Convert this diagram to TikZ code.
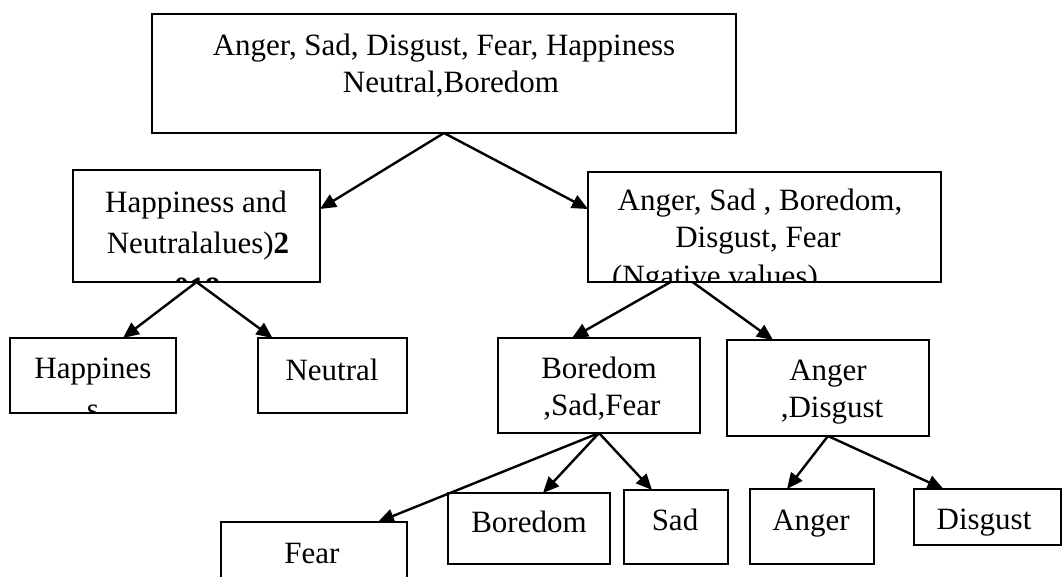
\documentclass[tikz,border=0pt]{standalone}
\usepackage{fontspec}
\setmainfont{Liberation Serif}
\usepackage{tikz}
\usetikzlibrary{arrows.meta}
\tikzset{%
  b/.style = {rectangle,draw,line width=1.8pt,inner sep=0pt,outer sep=0pt},
  txt/.style = {anchor=base,inner sep=0pt,font=\fontsize{31}{37}\selectfont},
  arr/.style = {-{Triangle[length=16pt,width=14pt]},line width=2.4pt}
}

\begin{document}
\begin{tikzpicture}[x=1pt,y=-1pt]
        \useasboundingbox (0,0) rectangle (1063,576);
        % boxes
        \node[b,minimum width=584pt,minimum height=119pt] (all) at (444,73.5) {};
        \node[b,minimum width=247pt,minimum height=112pt] (hn) at (196.5,226) {};
        \node[b,minimum width=353pt,minimum height=110pt] (neg) at (764.5,227) {};
        \node[b,minimum width=166pt,minimum height=75pt] (hap) at (93,375.5) {};
        \node[b,minimum width=149pt,minimum height=75pt] (neu) at (332.5,375.5) {};
        \node[b,minimum width=202pt,minimum height=95pt] (bsf) at (599,385.5) {};
        \node[b,minimum width=202pt,minimum height=96pt] (ad) at (828,388) {};
        \node[b,minimum width=186pt,minimum height=78pt] (fear) at (314,561) {};
        \node[b,minimum width=162pt,minimum height=71pt] (bor) at (529,528.5) {};
        \node[b,minimum width=104pt,minimum height=74pt] (sad) at (676,527) {};
        \node[b,minimum width=124pt,minimum height=75pt] (ang) at (812,526.5) {};
        \node[b,minimum width=147pt,minimum height=56pt] (dis) at (987.5,517) {};

        % texts
        \node[txt] (all-1) at (444,55) {Anger, Sad, Disgust, Fear, Happiness};
        \node[txt] (all-2) at (451,92) {Neutral,Boredom};
        \node[txt] (hn-1) at (196,212) {Happiness and};
        \node[txt] (hn-2) at (198,253) {Neutralalues)\textbf{2}};
        \node[txt] (neg-1) at (760,210) {Anger, Sad , Boredom,};
        \node[txt] (neg-2) at (758,247) {Disgust, Fear};
        \node[txt] (hap-1) at (93,378) {Happines};
        \node[txt] (neu-1) at (332,380) {Neutral};
        \node[txt] (bsf-1) at (599,378) {Boredom};
        \node[txt] (bsf-2) at (602,415) {,Sad,Fear};
        \node[txt] (ad-1) at (828,380) {Anger};
        \node[txt] (ad-2) at (832,417) {,Disgust};
        \node[txt] (fear-1) at (312,563) {Fear};
        \node[txt] (bor-1) at (529,532) {Boredom};
        \node[txt] (sad-1) at (675,530) {Sad};
        \node[txt] (ang-1) at (811,530) {Anger};
        \node[txt] (dis-1) at (984,529) {Disgust};

        % lines that run out of their box
        \begin{scope}
          \clip ([shift={(1pt,-1pt)}]hn.north west) rectangle ([shift={(-1pt,1pt)}]hn.south east);
          \node[txt] (hn-3) at (197,298) {\textbf{018}};
        \end{scope}
        \begin{scope}
          \clip ([shift={(1pt,-1pt)}]neg.north west) rectangle ([shift={(-1pt,1pt)}]neg.south east);
          \node[txt] (neg-3) at (715,286) {(Ngative values)};
        \end{scope}
        \begin{scope}
          \clip ([shift={(1pt,-1pt)}]hap.north west) rectangle ([shift={(-1pt,1pt)}]hap.south east);
          \node[txt] (hap-2) at (93,419) {s};
        \end{scope}

        % arrows
        \draw[arr] (all.south) -- ([yshift=17pt]hn.east);
        \draw[arr] (all.south) -- ([yshift=18pt]neg.west);
        \draw[arr] (hn.south) -- ([xshift=30pt]hap.north);
        \draw[arr] (hn.south) -- ([xshift=-60pt]neu.north);
        \draw[arr] ([xshift=-94pt]neg.south) -- ([xshift=-27pt]bsf.north);
        \draw[arr] ([xshift=-72pt]neg.south) -- ([xshift=-55pt]ad.north);
        \draw[arr] (bsf.south) -- ([xshift=64pt]fear.north);
        \draw[arr] (bsf.south) -- ([xshift=14pt]bor.north);
        \draw[arr] (bsf.south) -- ([xshift=-24pt]sad.north);
        \draw[arr] (ad.south) -- ([xshift=-25pt]ang.north);
        \draw[arr] (ad.south) -- ([xshift=-44pt]dis.north);

    \end{tikzpicture}
\end{document}
